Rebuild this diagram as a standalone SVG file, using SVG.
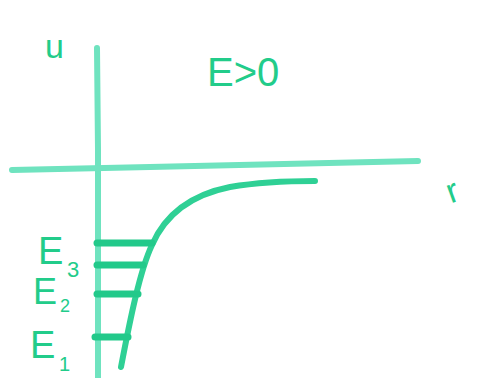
<svg xmlns="http://www.w3.org/2000/svg" width="478" height="378" viewBox="0 0 478 378">
<style>
.ax{stroke:#6fe3bf;stroke-width:6;fill:none;stroke-linecap:round}
.cv{stroke:#2fd095;stroke-width:6;fill:none;stroke-linecap:round}
.lv{stroke:#22c98a;stroke-width:7;fill:none;stroke-linecap:round}
.t{font-family:"Liberation Sans",sans-serif;fill:#22cc8a}
</style>
<rect width="478" height="378" fill="#ffffff"/>
<g id="connectors">
<path class="ax" d="M97,48 L98,150 L98,378"/>
<path class="ax" d="M12,170 L150,167 L418,161"/>
<path class="cv" d="M121,367 C130,320 140,270 152,245 C165,215 190,195 230,187 C260,182 290,181 315,181"/>
</g>
<g id="levels">
<line class="lv" x1="97" y1="243" x2="152" y2="243"/>
<line class="lv" x1="97" y1="265" x2="143" y2="265"/>
<line class="lv" x1="97" y1="294" x2="138" y2="294"/>
<line class="lv" x1="95" y1="337" x2="128" y2="337" stroke="#149c60"/>
</g>
<g id="labels">
<text class="t" x="45" y="58" font-size="34">u</text>
<text class="t" x="207" y="86" font-size="40">E&gt;0</text>
<text class="t" x="446" y="200" font-size="34" transform="rotate(-20 458 188)">r</text>
<text class="t" x="38" y="264" font-size="38">E</text>
<text class="t" x="67" y="277" font-size="22">3</text>
<text class="t" x="33" y="304" font-size="36">E</text>
<text class="t" x="60" y="312" font-size="18">2</text>
<text class="t" x="30" y="358" font-size="38">E</text>
<text class="t" x="59" y="371" font-size="20">1</text>
</g>
</svg>
